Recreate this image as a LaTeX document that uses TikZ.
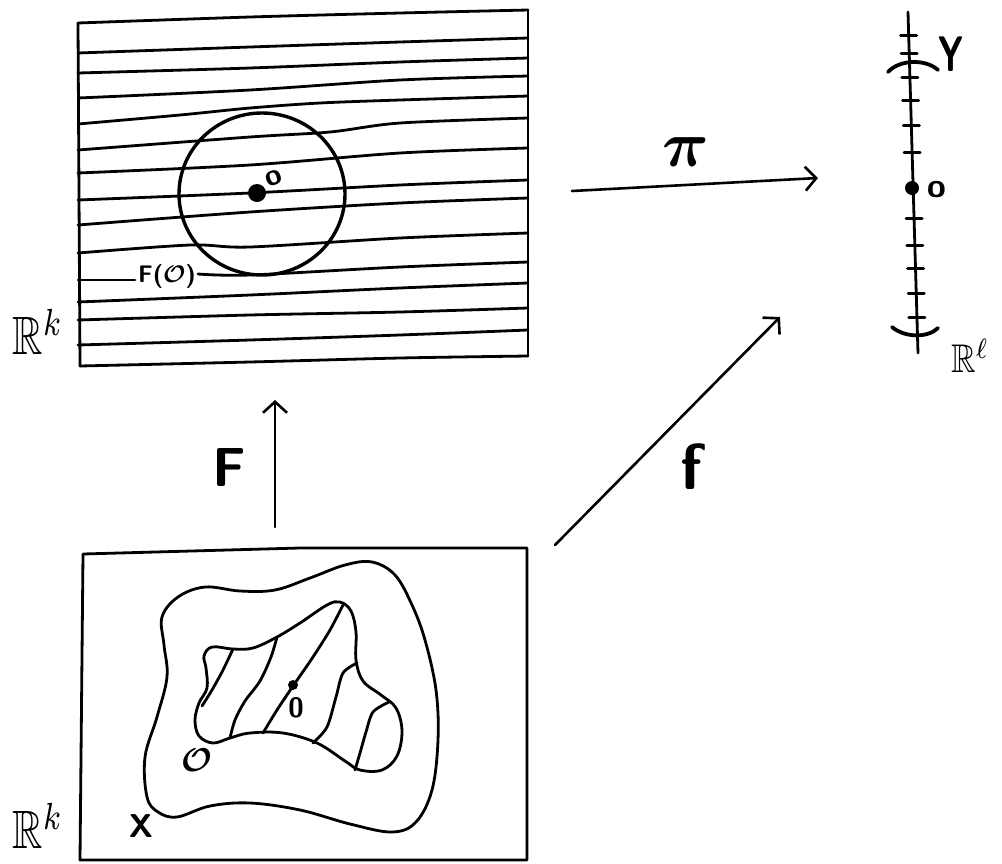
\documentclass[tikz,border=0pt]{standalone}
\usepackage{amssymb}
\usepackage{bm}
\usetikzlibrary{arrows.meta}
\begin{document}
\begin{tikzpicture}[x=1pt,y=-1pt,line cap=round,line join=round,
  ink/.style={line width=2.8pt},
  bold ink/.style={line width=3.4pt},
  arr/.style={line width=2.6pt,-{Straight Barb[length=11pt,width=24pt]}},
  lab/.style={inner sep=0pt,font=\sffamily\bfseries},
  tick/.style={line width=3pt}]
\useasboundingbox (0,0) rectangle (1002,863);

% ---------- top box (R^k with fibres) ----------
\draw[ink] (78,23) -- (80,366);
\draw[ink] (528,10) -- (528,356);
\draw[ink] plot[smooth] coordinates {(78,23) (250,17) (400,13) (528,10)};
\draw[ink] plot[smooth] coordinates {(78,53) (250,47) (400,42) (528,38)};
\draw[ink] plot[smooth] coordinates {(78,73) (250,68) (400,62) (528,58)};
\draw[ink] plot[smooth] coordinates {(78,98) (250,90) (400,80) (528,76)};
\draw[ink] plot[smooth] coordinates {(78,124) (180,115) (250,108) (320,103) (400,100) (528,96)};
\draw[ink] plot[smooth] coordinates {(78,150) (250,137) (330,132) (400,123) (528,118)};
\draw[ink] plot[smooth] coordinates {(78,173) (250,165) (400,153) (528,148)};
\draw[ink] plot[smooth] coordinates {(78,200) (250,193) (400,185) (528,180)};
\draw[ink] plot[smooth] coordinates {(78,225) (250,212) (400,203) (528,198)};
\draw[ink] plot[smooth] coordinates {(78,253) (190,245) (250,247) (400,238) (528,233)};
\draw[ink] (78,280) -- (135,280);
\draw[ink] plot[smooth] coordinates {(198,274) (250,275) (400,267) (528,262)};
\draw[ink] plot[smooth] coordinates {(78,302) (250,295) (400,288) (528,283)};
\draw[ink] plot[smooth] coordinates {(78,320) (250,315) (400,312) (528,308)};
\draw[ink] plot[smooth] coordinates {(78,345) (250,340) (400,335) (528,330)};
\draw[ink] plot[smooth] coordinates {(80,366) (250,362) (400,358) (528,356)};

\draw[bold ink] (262,194) ellipse [x radius=83pt,y radius=81pt];
\fill (257,193) circle[radius=9pt];
\node[lab,scale=3,rotate=20] (o1) at (274,178) {o};
\node[lab,scale=2.4] (FO) at (167,276) {F($\bm{\mathcal{O}}$)};
\node[xscale=4.2,yscale=5.4] (Rk1) at (38,332) {$\mathbb{R}^k$};

% ---------- right axis (R^l) ----------
\coordinate (ytop) at (908,12);
\coordinate (ybot) at (918,353);
\draw[ink] (ytop) -- (ybot);
\foreach \yy in {35,53,77,100,125,152,218,245,268,293,317}
  \draw[tick] ({908+10*(\yy-12)/341-8},\yy) -- ++(16,0);
\draw[line width=3.8pt] (888,72) .. controls (900,59) and (926,59) .. (938,70);
\draw[line width=3.8pt] (892,327) .. controls (905,338) and (928,338) .. (938,328);
\fill (912,188) circle[radius=7pt];
\node[lab,scale=3.4] (o2) at (937,190) {o};
\node[lab,xscale=3.4,yscale=5] (Y) at (951,54) {Y};
\node[xscale=3.4,yscale=4,anchor=east] (Rl) at (1001,356) {$\mathbb{R}^\ell$};

% ---------- bottom box (X) ----------
\draw[ink] (83,554) -- (300,548) -- (527,548) -- (527,860) -- (80,860) -- cycle;
\draw[ink] plot[smooth cycle,tension=0.6] coordinates {
  (178,597) (205,587) (240,591) (275,590) (310,578) (345,565) (372,562)
  (395,575) (412,605) (425,640) (436,690) (438,740) (432,790) (416,822)
  (392,832) (350,824) (300,810) (250,803) (210,806) (177,817) (158,812)
  (147,797) (145,757) (157,717) (167,677) (164,645) (162,617)};
\draw[ink] plot[smooth cycle,tension=0.6] coordinates {
  (212,647) (233,649) (253,648) (277,637) (300,623) (327,605) (340,602)
  (351,611) (356,632) (356,660) (363,681) (381,695) (396,708) (402,731)
  (397,756) (382,770) (360,770) (345,761) (317,743) (283,733) (250,733)
  (230,738) (213,743) (199,736) (195,720) (199,703) (207,688) (206,668) (204,656)};
\draw[ink] plot[smooth] coordinates {(233,649) (223,670) (212,690) (202,706)};
\draw[ink] plot[smooth] coordinates {(277,637) (271,657) (260,681) (245,701) (235,720) (230,738)};
\draw[ink] plot[smooth] coordinates {(343,605) (330,630) (313,657) (293,686) (277,710) (263,733)};
\draw[ink] plot[smooth] coordinates {(357,663) (343,673) (336,697) (327,727) (313,743)};
\draw[ink] plot[smooth] coordinates {(389,702) (373,712) (366,732) (360,753) (355,770)};
\fill (293,685) circle[radius=5pt];
\node[lab,scale=2.8] (o3) at (296,708) {0};
\node[scale=3.3] (Ocal) at (197,760) {$\bm{\mathcal{O}}$};
\node[lab,scale=3.3] (X) at (141,826) {X};
\node[xscale=4.2,yscale=5.4] (Rk2) at (38,826) {$\mathbb{R}^k$};

% ---------- arrows ----------
\coordinate (Ftail) at (275,527);
\coordinate (Fhead) at (275,400);
\draw[arr] (Ftail) -- (Fhead);
\node[lab,scale=5.5] (Flab) at (229,467) {F};

\coordinate (pitail) at (572,191);
\coordinate (pihead) at (818,178);
\draw[arr] (pitail) -- (pihead);
\node[scale=6.5] (pilab) at (686,152) {$\bm{\pi}$};

\coordinate (ftail) at (555,545);
\coordinate (fhead) at (780,317);
\draw[arr] (ftail) -- (fhead);
\node[lab,scale=6.5] (flab) at (691,467) {f};
\end{tikzpicture}
\end{document}
